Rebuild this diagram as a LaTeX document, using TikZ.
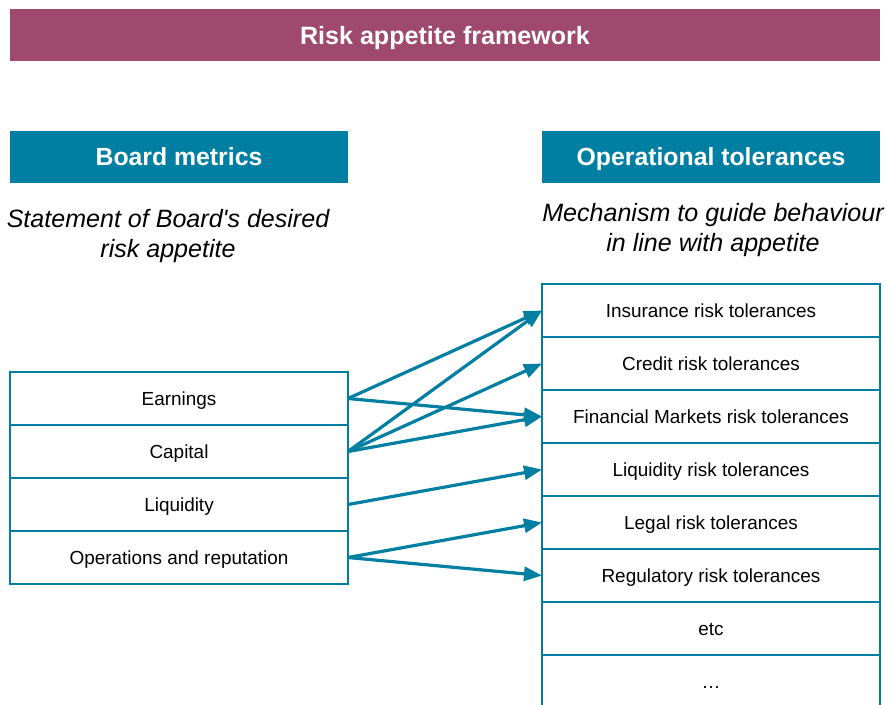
\documentclass[tikz,border=0pt]{standalone}
\usepackage{fontspec}
\setmainfont{Liberation Sans}
\usetikzlibrary{arrows.meta,positioning}
\definecolor{rafplum}{HTML}{A0496F}
\definecolor{rafblue}{HTML}{007FA3}

\begin{document}
\begin{tikzpicture}[x=0.75pt,y=-0.75pt,
  every node/.style={inner sep=0pt,outer sep=0pt},
  title/.style={fill=rafplum,text=white,minimum width=652.5pt,minimum height=39pt,text height=13.5pt,text depth=0pt,font=\bfseries\fontsize{18.8}{22}\selectfont},
  hdr/.style={fill=rafblue,text=white,minimum width=253.5pt,minimum height=39pt,text height=13.4pt,text depth=0pt,font=\bfseries\fontsize{18.6}{22}\selectfont},
  note/.style={align=center,font=\itshape\fontsize{18.8}{22.2}\selectfont},
  row/.style={draw=rafblue,line width=1.5pt,fill=white,minimum width=253.5pt,minimum height=39.75pt,text height=10.2pt,text depth=0pt,font=\fontsize{14.2}{17}\selectfont},
  link/.style={rafblue,line width=2.4pt,-{Triangle[length=13.5pt,width=10.5pt]}}]

\useasboundingbox (0,0) rectangle (887,704);

\node[title] (raf) at (445,35) {Risk appetite framework};

\node[hdr] (bmhead) at (179,157) {Board metrics};
\node[hdr] (othead) at (711,157) {Operational tolerances};

\node[note] (bmnote) at (168,236) {Statement of Board\textquotesingle s desired\\risk appetite};
\node[note] (otnote) at (713,230) {Mechanism to guide behaviour\\in line with appetite};

% board metrics
\foreach \txt [count=\i] in {Earnings,Capital,Liquidity,Operations and reputation}
  \node[row] (bm\i) at (179,{345.5+53*\i}) {\txt};

% operational tolerances
\foreach \txt [count=\i] in {Insurance risk tolerances,Credit risk tolerances,Financial Markets risk tolerances,Liquidity risk tolerances,Legal risk tolerances,Regulatory risk tolerances,etc,…}
  \node[row] (ot\i) at (711,{257.5+53*\i}) {\txt};

% links
\foreach \a/\b in {1/1,1/3,2/1,2/2,2/3,3/4,4/5,4/6}
  \draw[link] (bm\a.east) -- (ot\b.west);
\end{tikzpicture}
\end{document}
